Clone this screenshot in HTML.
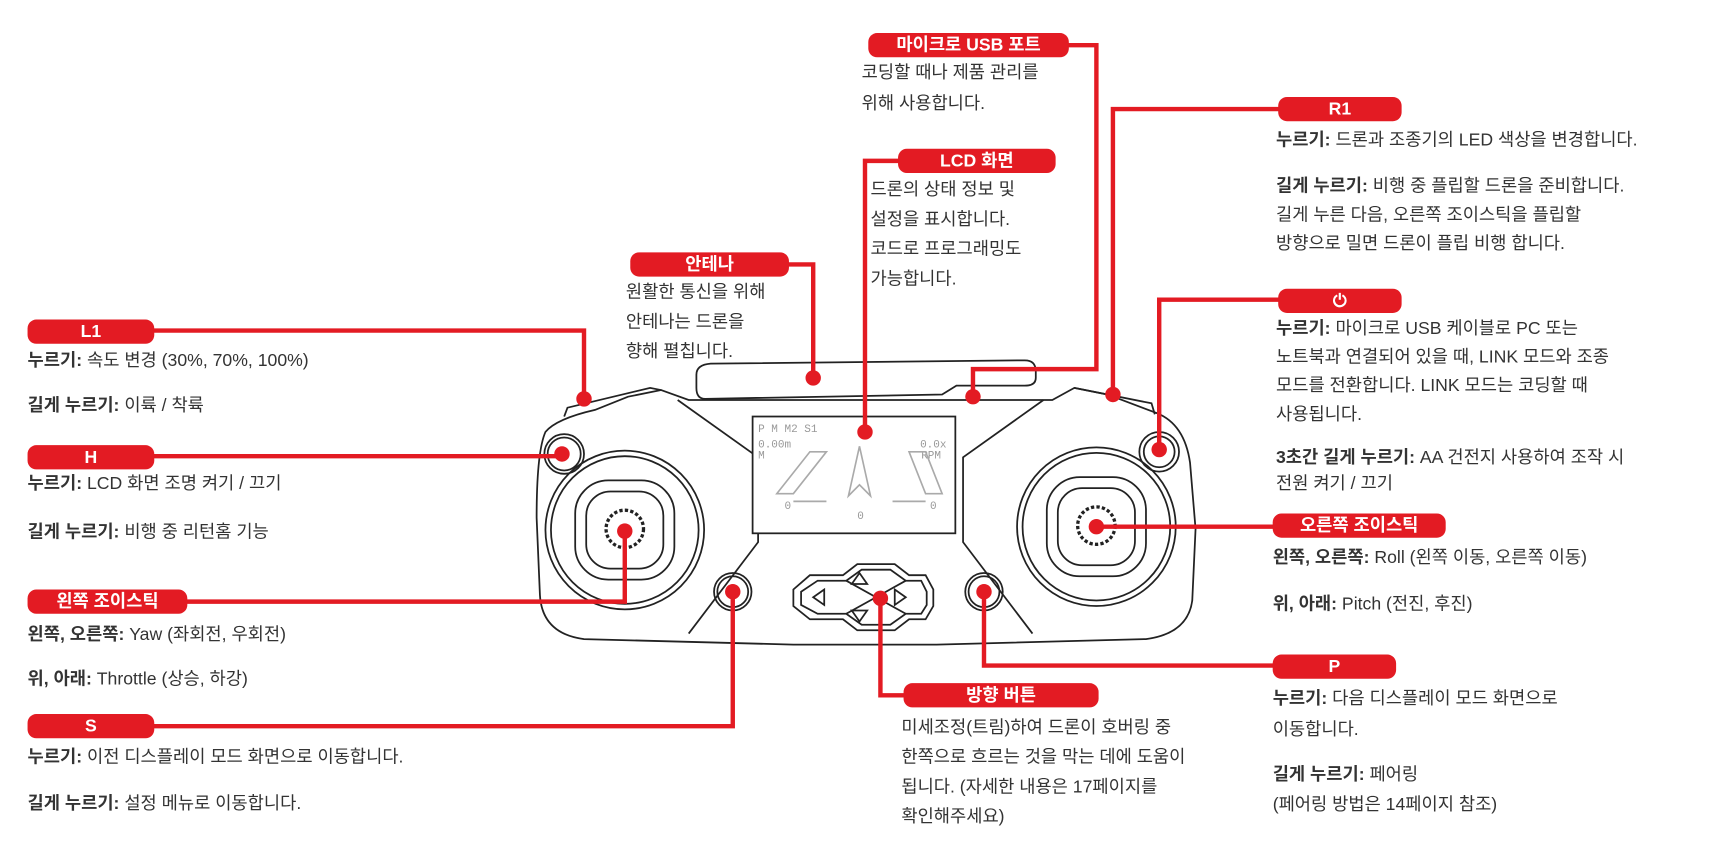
<!DOCTYPE html>
<html><head><meta charset="utf-8"><style>
html,body{margin:0;padding:0;background:#fff;width:1719px;height:853px;overflow:hidden}
#w{position:absolute;left:0;top:0;width:1560px;height:774px;transform:scale(1.1019);transform-origin:0 0;font-family:"Liberation Sans","Noto Sans CJK KR",sans-serif;color:#333}
.p{position:absolute;height:22px;background:#e31b23;border-radius:8px;color:#fff;font-weight:bold;font-size:16px;line-height:24px;text-align:center}
.t{position:absolute;font-size:16px;line-height:26px;white-space:nowrap}
b{font-weight:bold}
svg{position:absolute;left:0;top:0}
</style></head><body><div id="w">
<svg width="1560" height="774" viewBox="0 0 1560 774">
<g fill="none" stroke="#222" stroke-width="1.6">
<path d="M645,330 L930,327 Q940,327 940,337 L940,343 Q940,350 930,350 L868,350 L855,358 L640,362 Q632,362 632,352 L632,340 Q632,331 645,330 Z"/>
<path d="M600,354 L625,363 L955,363 L975,352 L1005,358 L1050,375 Q1075,385 1080,420 L1085,480 L1082,545 Q1078,575 1040,580 L850,585 L720,585 L530,580 Q492,575 490,540 L487,470 Q487,410 495,392 Q505,380 540,372 L570,360 Z"/>
<path d="M512,378 L515,370 L590,352 L600,354"/>
<path d="M1048,376 L1045,366 L975,352"/>
<path d="M615,363 L688,415 L688,492 L625,575"/>
<path d="M947,363 L874,415 L874,492 L937,575"/>
<rect x="683" y="378" width="184" height="106" fill="#fff"/>
<circle cx="567" cy="481" r="72"/><circle cx="567" cy="481" r="67"/>
<rect x="522" y="436" width="90" height="90" rx="30"/><rect x="532" y="446" width="70" height="70" rx="22"/>
<circle cx="567" cy="480" r="17" stroke-dasharray="3 2" stroke-width="3"/>
<circle cx="995" cy="478" r="72"/><circle cx="995" cy="478" r="67"/>
<rect x="950" y="433" width="90" height="90" rx="30"/><rect x="960" y="443" width="70" height="70" rx="22"/>
<circle cx="995" cy="477" r="17" stroke-dasharray="3 2" stroke-width="3"/>
<circle cx="512" cy="412" r="18"/><circle cx="512" cy="412" r="15"/>
<circle cx="1052" cy="410" r="18"/><circle cx="1052" cy="410" r="14"/>
<circle cx="665" cy="537" r="17"/><circle cx="665" cy="537" r="14"/>
<circle cx="893" cy="537" r="17"/><circle cx="893" cy="537" r="14"/>
<path d="M735,522 L765,522 L778,512 L812,512 L825,522 L840,522 L847,535 L847,550 L840,562 L825,562 L812,572 L778,572 L765,562 L735,562 L720,550 L720,535 Z"/>
<path d="M742,527 L768,527 L782,517 L808,517 L822,527 L836,527 L841,537 L841,549 L836,557 L822,557 L808,567 L782,567 L768,557 L742,557 L727,549 L727,537 Z"/>
<path d="M768,527 L795,542 L768,557 M822,527 L795,542 L822,557"/>
<path d="M773,530 L780,520 L787,530 Z M773,554 L780,564 L787,554 Z M748,535 L738,542 L748,549 Z M812,535 L822,542 L812,549 Z"/>
</g>
<g fill="#999" font-family="Liberation Mono,monospace" font-size="10">
<text x="688" y="392">P M M2 S1</text><text x="688" y="406">0.00m</text><text x="688" y="416">M</text>
<text x="835" y="406">0.0x</text><text x="836" y="416">RPM</text>
<text x="712" y="462">0</text><text x="778" y="471">0</text><text x="844" y="462">0</text>
</g>
<g stroke="#aaa" stroke-width="1.5" fill="none">
<path d="M705,448 L735,410 L750,410 L720,448 Z M825,410 L840,410 L855,448 L840,448 Z"/>
<path d="M780,405 L770,450 L780,440 L790,450 Z"/>
<path d="M720,455 L750,455 M810,455 L840,455"/>
</g>
<g stroke="#e31b23" stroke-width="4" fill="none">
<path d="M968,41 L995,41 L995,335 L883,335 L883,360"/>
<path d="M1162,99 L1010,99 L1010,358"/>
<path d="M817,146 L785,146 L785,392"/>
<path d="M714,240 L738,240 L738,343"/>
<path d="M138,300 L530,300 L530,362"/>
<path d="M1162,272 L1052,272 L1052,408"/>
<path d="M138,414 L510,414"/>
<path d="M995,478 L1157,478"/>
<path d="M168,546 L567,546 L567,482"/>
<path d="M138,659 L665,659 L665,537"/>
<path d="M822,631 L799,631 L799,543"/>
<path d="M1157,604 L893,604 L893,537"/>
</g>
<g fill="#e31b23">
<circle cx="883" cy="360" r="7"/><circle cx="1010" cy="358" r="7"/><circle cx="785" cy="392" r="7"/>
<circle cx="738" cy="343" r="7"/><circle cx="530" cy="362" r="7"/><circle cx="1052" cy="408" r="7"/>
<circle cx="510" cy="412" r="7"/><circle cx="995" cy="478" r="7"/><circle cx="567" cy="482" r="7"/>
<circle cx="665" cy="537" r="7"/><circle cx="799" cy="543" r="7"/><circle cx="893" cy="537" r="7"/>
</g>
</svg>

<div class="p" style="left:788px;top:30px;width:182px">마이크로 USB 포트</div>
<div class="t" style="left:782px;top:53px;line-height:28px">코딩할 때나 제품 관리를<br>위해 사용합니다.</div>

<div class="p" style="left:1160px;top:88px;width:112px">R1</div>
<div class="t" style="left:1158px;top:115px"><b>누르기:</b> 드론과 조종기의 LED 색상을 변경합니다.</div>
<div class="t" style="left:1158px;top:157px"><b>길게 누르기:</b> 비행 중 플립할 드론을 준비합니다.<br>길게 누른 다음, 오른쪽 조이스틱을 플립할<br>방향으로 밀면 드론이 플립 비행 합니다.</div>

<div class="p" style="left:815px;top:135px;width:143px">LCD 화면</div>
<div class="t" style="left:790px;top:159px;line-height:27px">드론의 상태 정보 및<br>설정을 표시합니다.<br>코드로 프로그래밍도<br>가능합니다.</div>

<div class="p" style="left:572px;top:229px;width:144px">안테나</div>
<div class="t" style="left:568px;top:252px;line-height:27px">원활한 통신을 위해<br>안테나는 드론을<br>향해 펼칩니다.</div>

<div class="p" style="left:25px;top:290px;width:115px">L1</div>
<div class="t" style="left:25px;top:315px"><b>누르기:</b> 속도 변경 (30%, 70%, 100%)</div>
<div class="t" style="left:25px;top:356px"><b>길게 누르기:</b> 이륙 / 착륙</div>

<div class="p" style="left:1160px;top:262px;width:112px">⏻</div>
<div class="t" style="left:1158px;top:286px"><b>누르기:</b> 마이크로 USB 케이블로 PC 또는<br>노트북과 연결되어 있을 때, LINK 모드와 조종<br>모드를 전환합니다. LINK 모드는 코딩할 때<br>사용됩니다.</div>
<div class="t" style="left:1158px;top:404px;line-height:24px"><b>3초간 길게 누르기:</b> AA 건전지 사용하여 조작 시<br>전원 켜기 / 끄기</div>

<div class="p" style="left:25px;top:404px;width:115px">H</div>
<div class="t" style="left:25px;top:427px"><b>누르기:</b> LCD 화면 조명 켜기 / 끄기</div>
<div class="t" style="left:25px;top:471px"><b>길게 누르기:</b> 비행 중 리턴홈 기능</div>

<div class="p" style="left:1155px;top:466px;width:157px">오른쪽 조이스틱</div>
<div class="t" style="left:1155px;top:494px"><b>왼쪽, 오른쪽:</b> Roll (왼쪽 이동, 오른쪽 이동)</div>
<div class="t" style="left:1155px;top:536px"><b>위, 아래:</b> Pitch (전진, 후진)</div>

<div class="p" style="left:25px;top:535px;width:145px">왼쪽 조이스틱</div>
<div class="t" style="left:25px;top:564px"><b>왼쪽, 오른쪽:</b> Yaw (좌회전, 우회전)</div>
<div class="t" style="left:25px;top:604px"><b>위, 아래:</b> Throttle (상승, 하강)</div>

<div class="p" style="left:1155px;top:594px;width:112px">P</div>
<div class="t" style="left:1155px;top:621px;line-height:28px"><b>누르기:</b> 다음 디스플레이 모드 화면으로<br>이동합니다.</div>
<div class="t" style="left:1155px;top:690px;line-height:27px"><b>길게 누르기:</b> 페어링<br>(페어링 방법은 14페이지 참조)</div>

<div class="p" style="left:820px;top:620px;width:177px">방향 버튼</div>
<div class="t" style="left:818px;top:647px;line-height:27px">미세조정(트림)하여 드론이 호버링 중<br>한쪽으로 흐르는 것을 막는 데에 도움이<br>됩니다. (자세한 내용은 17페이지를<br>확인해주세요)</div>

<div class="p" style="left:25px;top:648px;width:115px">S</div>
<div class="t" style="left:25px;top:675px"><b>누르기:</b> 이전 디스플레이 모드 화면으로 이동합니다.</div>
<div class="t" style="left:25px;top:717px"><b>길게 누르기:</b> 설정 메뉴로 이동합니다.</div>
</div></body></html>
